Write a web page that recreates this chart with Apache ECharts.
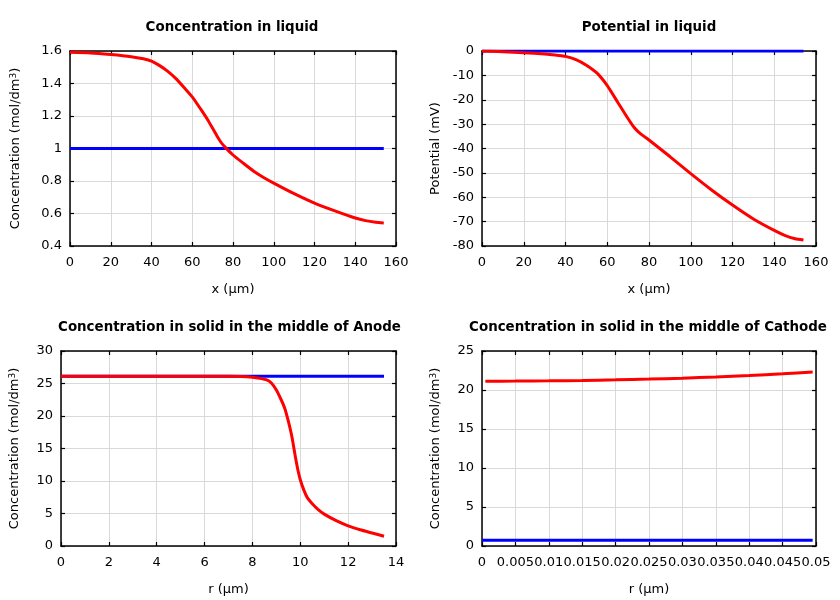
<!DOCTYPE html>
<html><head><meta charset="utf-8">
<script src="https://cdn.jsdelivr.net/npm/echarts@6/dist/echarts.min.js"></script>
<style>html,body{margin:0;padding:0;background:#fff}#c{width:840px;height:600px}</style>
</head><body><div id="c"></div>
<script>
// Plot 1: Concentration in liquid
const liqX = [0,10,20,30,36,40,44,48,52,56,60,64,68,72,74,76,80,85,90,95,100,110,120,130,140,145,150,154];
const liqConc = [1.592,1.588,1.578,1.565,1.552,1.538,1.51,1.475,1.43,1.375,1.318,1.245,1.168,1.08,1.04,1.01,0.96,0.91,0.862,0.822,0.787,0.722,0.664,0.616,0.572,0.556,0.546,0.542];
const liqConcInitX = [0,154];
const liqConcInit = [1,1];
// Plot 2: Potential in liquid
const potX = [0,10,20,30,35,40,45,50,55,60,65,70,73,76,80,90,100,110,120,130,140,145,150,154];
const potVal = [0,-0.3,-0.7,-1.2,-1.6,-2.2,-3.5,-5.8,-9.0,-14.2,-21.0,-27.8,-31.5,-34.0,-36.5,-43.3,-50.3,-57.0,-63.2,-68.9,-73.6,-75.6,-77.0,-77.5];
const potInitX = [0,154];
const potInit = [0,0];
// Plot 3: Anode solid
const anX = [0,2,4,6,7,7.5,8,8.3,8.6,8.8,9.0,9.2,9.35,9.5,9.65,9.8,9.9,10.0,10.15,10.3,10.5,10.75,11,11.5,12,12.5,13,13.5];
const anVal = [26.1,26.1,26.1,26.1,26.1,26.08,25.97,25.8,25.55,25.05,24.0,22.5,21.2,19.2,16.8,13.6,11.7,10.2,8.6,7.4,6.5,5.6,4.9,3.9,3.1,2.5,2.0,1.5];
const anInitX = [0,13.5];
const anInit = [26.1,26.1];
// Plot 4: Cathode solid
const caX = [0.0005,0.005,0.01,0.015,0.02,0.025,0.03,0.035,0.04,0.045,0.0495];
const caVal = [21.12,21.14,21.17,21.22,21.3,21.4,21.52,21.67,21.85,22.07,22.32];
const caInitX = [0,0.0495];
const caInit = [0.73,0.73];

const titles = ['Concentration in liquid','Potential in liquid','Concentration in solid in the middle of Anode','Concentration in solid in the middle of Cathode'];
const xNames = ['x (µm)','x (µm)','r (µm)','r (µm)'];
const yNames = ['Concentration (mol/dm{sup|3})','Potential (mV)','Concentration (mol/dm{sup|3})','Concentration (mol/dm{sup|3})'];

const pairs = (xs, ys) => xs.map((x,i)=>[x,ys[i]]);

const grids = [
  {left:70, top:51, width:326, height:195},
  {left:482, top:51, width:334, height:195},
  {left:61, top:351, width:335, height:195},
  {left:482, top:351, width:334, height:195}
];
const xr = [[0,160,20],[0,160,20],[0,14,2],[0,0.05,0.005]];
const yr = [[0.4,1.6,0.2],[-80,0,10],[0,30,5],[0,25,5]];
const yGap = [48,40,40,40];
const font = 'DejaVu Sans';
const lblStyle = {color:'#000', fontFamily:font, fontSize:13};

const xAxis = [], yAxis = [];
grids.forEach((g,i)=>{
  const base = {type:'value', gridIndex:i, axisLine:{show:true, onZero:false, lineStyle:{color:'#000', width:1.5}},
    axisTick:{show:true, inside:true, length:4, lineStyle:{color:'#000', width:1.2}}};
  xAxis.push(Object.assign({}, base, {position:'bottom', min:xr[i][0], max:xr[i][1], interval:xr[i][2],
    name:xNames[i], nameLocation:'middle', nameGap:37, nameTextStyle:lblStyle,
    axisLabel:Object.assign({margin:10}, lblStyle),
    splitLine:{show:true, lineStyle:{color:'#d9d9d9', width:1}}}));
  xAxis.push(Object.assign({}, base, {position:'top', min:xr[i][0], max:xr[i][1], interval:xr[i][2],
    axisLabel:{show:false}, splitLine:{show:false}}));
  yAxis.push(Object.assign({}, base, {position:'left', min:yr[i][0], max:yr[i][1], interval:yr[i][2],
    name:yNames[i], nameLocation:'middle', nameGap:yGap[i],
    nameTextStyle:Object.assign({}, lblStyle, {rich:{sup:{fontFamily:font, fontSize:9, color:'#000', verticalAlign:'top', padding:[0,0,0,0]}}}),
    axisLabel:Object.assign({margin:8}, lblStyle),
    splitLine:{show:true, lineStyle:{color:'#d9d9d9', width:1}}}));
  yAxis.push(Object.assign({}, base, {position:'right', min:yr[i][0], max:yr[i][1], interval:yr[i][2],
    axisLabel:{show:false}, splitLine:{show:false}}));
});

const titleCenters = [[232,21],[649,21],[229.5,321],[648,321]];
const title = titles.map((t,i)=>({text:t, left:titleCenters[i][0], top:titleCenters[i][1], textAlign:'center', padding:0,
  textStyle:{fontFamily:font, fontSize:13.4, fontWeight:'bold', color:'#000'}}));

const mk = (data, color, i, smooth) => ({type:'line', xAxisIndex:2*i, yAxisIndex:2*i, data, showSymbol:false, symbol:'none',
  smooth: smooth || false, lineStyle:{color, width:3}, itemStyle:{color}, animation:false});

const series = [
  mk(pairs(liqConcInitX, liqConcInit), '#0000ff', 0),
  mk(pairs(liqX, liqConc), '#ff0000', 0, 0.2),
  mk(pairs(potInitX, potInit), '#0000ff', 1),
  mk(pairs(potX, potVal), '#ff0000', 1, 0.2),
  mk(pairs(anInitX, anInit), '#0000ff', 2),
  mk(pairs(anX, anVal), '#ff0000', 2, 0.2),
  mk(pairs(caInitX, caInit), '#0000ff', 3),
  mk(pairs(caX, caVal), '#ff0000', 3, 0.2)
];

const chart = echarts.init(document.getElementById('c'), null, {renderer:'canvas'});
chart.setOption({animation:false, backgroundColor:'#fff', title, grid:grids, xAxis, yAxis, series});
</script></body></html>
